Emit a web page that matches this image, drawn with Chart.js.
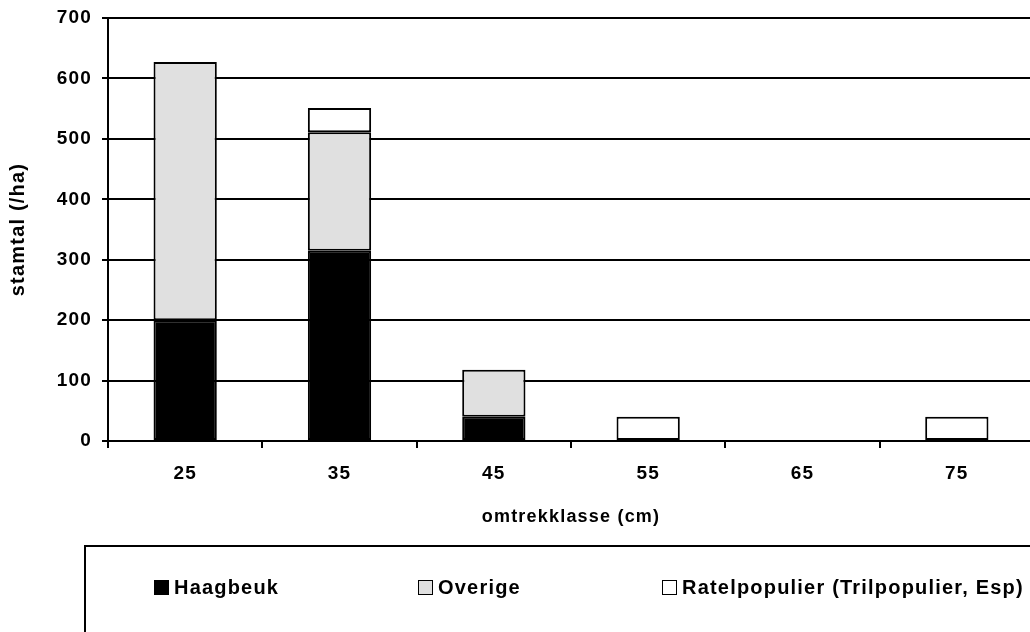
<!DOCTYPE html>
<html>
<head>
<meta charset="utf-8">
<script src="https://cdn.jsdelivr.net/npm/chart.js@4.4.1/dist/chart.umd.min.js"></script>
<style>
  html, body { margin: 0; padding: 0; background: #fff; overflow: hidden; }
  #wrap { position: absolute; left: 0; top: 0; width: 1040px; height: 632px; }
</style>
</head>
<body>
<div id="wrap"><canvas id="c"></canvas></div>
<script>
// Stem counts per hectare by circumference class
const categories = ['25', '35', '45', '55', '65', '75'];
const haagbeuk = [200, 315, 40, 0, 0, 0];
const overige = [427, 196, 78, 0, 0, 0];
const ratelpopulier = [0, 40, 0, 40, 0, 40];
const yTicks = [0, 100, 200, 300, 400, 500, 600, 700];

const FONT = "'Liberation Sans', Arial, sans-serif";
const SPACING = '1.2px';

// Slightly wider letter spacing for all canvas text
const spacingPlugin = {
  id: 'spacing',
  beforeLayout(chart) { chart.ctx.letterSpacing = SPACING; },
  beforeDraw(chart) { chart.ctx.letterSpacing = SPACING; }
};

// Boxed legend drawn below the axis title
const boxLegend = {
  id: 'boxLegend',
  afterDraw(chart) {
    const ctx = chart.ctx;
    ctx.save();
    ctx.letterSpacing = SPACING;
    ctx.strokeStyle = '#000';
    ctx.lineWidth = 2;
    ctx.beginPath();
    ctx.moveTo(85, 700);
    ctx.lineTo(85, 546);
    ctx.lineTo(chart.width + 10, 546);
    ctx.stroke();
    const xs = [154, 418, 662];
    chart.data.datasets.forEach((ds, i) => {
      const x = xs[i];
      ctx.fillStyle = ds.backgroundColor;
      ctx.fillRect(x, 580, 15, 15);
      ctx.lineWidth = 1;
      ctx.strokeStyle = '#000';
      ctx.strokeRect(x + 0.5, 580.5, 14, 14);
      ctx.fillStyle = '#000';
      ctx.font = 'bold 20px ' + FONT;
      ctx.textBaseline = 'middle';
      ctx.textAlign = 'left';
      ctx.fillText(ds.label, x + 20, 588.5);
    });
    ctx.restore();
  }
};

new Chart(document.getElementById('c'), {
  type: 'bar',
  data: {
    labels: categories,
    datasets: [
      { label: 'Haagbeuk', data: haagbeuk, backgroundColor: '#000000' },
      { label: 'Overige', data: overige, backgroundColor: '#e0e0e0' },
      { label: 'Ratelpopulier (Trilpopulier, Esp)', data: ratelpopulier, backgroundColor: '#ffffff' }
    ]
  },
  options: {
    responsive: true,
    maintainAspectRatio: false,
    animation: false,
    devicePixelRatio: 1,
    layout: { padding: { left: 0, top: 18, right: 6, bottom: 102 } },
    datasets: {
      bar: {
        borderColor: '#000',
        borderWidth: 2,
        borderSkipped: false,
        categoryPercentage: 1,
        barPercentage: 0.41
      }
    },
    plugins: {
      legend: { display: false },
      tooltip: { enabled: false }
    },
    scales: {
      x: {
        stacked: true,
        grid: { drawOnChartArea: false, drawTicks: true, tickLength: 7, color: '#000', lineWidth: 2 },
        border: { color: '#000', width: 2 },
        ticks: { color: '#000', padding: 14, font: { family: FONT, size: 19, weight: 'bold' } },
        title: {
          display: true, text: 'omtrekklasse (cm)', color: '#000',
          font: { family: FONT, size: 18, weight: 'bold' },
          padding: { top: 0, bottom: 2 }
        },
        afterFit(s) { s.height = 89; s.paddingLeft = 0; s.paddingRight = 0; }
      },
      y: {
        stacked: true,
        min: 0, max: 700,
        afterBuildTicks(s) { s.ticks = yTicks.map(v => ({ value: v })); },
        grid: { color: '#000', lineWidth: 2, tickLength: 6 },
        border: { color: '#000', width: 2 },
        ticks: { color: '#000', padding: 10, font: { family: FONT, size: 19, weight: 'bold' } },
        title: {
          display: true, text: 'stamtal (/ha)', color: '#000',
          font: { family: FONT, size: 20, weight: 'bold' },
          padding: { top: 6, bottom: 0 }
        },
        afterFit(s) { s.width = 108; s.paddingTop = 0; s.paddingBottom = 0; }
      }
    }
  },
  plugins: [spacingPlugin, boxLegend]
});
</script>
</body>
</html>
